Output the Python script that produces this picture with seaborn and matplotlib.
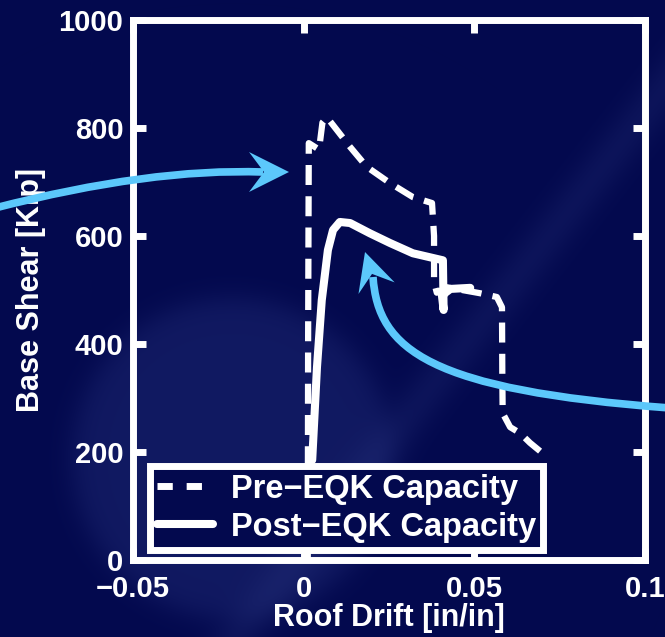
import numpy as np
import pandas as pd
import seaborn as sns
import matplotlib.pyplot as plt
from matplotlib.lines import Line2D
from matplotlib.path import Path
from matplotlib.patches import PathPatch, Polygon

# pushover curves
pre_drift = [0.0012, 0.0013, 0.0015, 0.0045, 0.0055, 0.0068, 0.0136, 0.0185, 0.0253,
             0.0320, 0.0376, 0.0382, 0.0382, 0.0390, 0.0420, 0.0517, 0.0566, 0.0581,
             0.0582, 0.0583, 0.0605, 0.0634, 0.0663, 0.0713]
pre_shear = [0, 400, 772, 760, 810, 820, 765, 728, 698,
             672, 661, 600, 515, 495, 505, 494, 487, 468,
             340, 272, 246, 235, 217, 191]

post_drift = [0.0025, 0.0039, 0.0053, 0.0071, 0.0086, 0.0106, 0.0136, 0.0194, 0.0253,
              0.0320, 0.0408, 0.0410, 0.0405, 0.0430, 0.0488]
post_shear = [185, 357, 481, 574, 611, 626, 624, 605, 587,
              568, 555, 463, 490, 502, 504]

series_names = ['Pre\u2212EQK Capacity', 'Post\u2212EQK Capacity']
x_ticks = [-0.05, 0, 0.05, 0.1]
x_tick_labels = ['\u22120.05', '0', '0.05', '0.1']
y_ticks = [0, 200, 400, 600, 800, 1000]
y_tick_labels = ['0', '200', '400', '600', '800', '1000']

navy = '#03094e'
arrow_blue = '#5cc8fb'

sns.set_theme(style='ticks')
plt.rcParams['font.family'] = ['Liberation Sans', 'DejaVu Sans']
plt.rcParams['font.weight'] = 'bold'

W, H = 665, 637
fig = plt.figure(figsize=(W / 100, H / 100), dpi=100)
fig.patch.set_facecolor(navy)

# background: dark navy with a soft lighter disc and a faint diagonal streak
yy, xx = np.mgrid[0:H, 0:W]
base = np.array([3, 9, 78]) / 255
bg = np.ones((H, W, 3)) * base
d = np.hypot(xx - 232, yy - 458)
w1 = 0.6 / (1 + np.exp((d - 160) / 8))
bg = bg * (1 - w1[..., None]) + np.array([26, 36, 110]) / 255 * w1[..., None]
dirx, diry = -130 / np.hypot(130, 167), 167 / np.hypot(130, 167)
dist = np.abs((xx - 553) * diry - (yy - 230) * dirx)
w2 = 0.16 * np.exp(-(dist / 22) ** 2)
bg = bg * (1 - w2[..., None]) + np.array([60, 75, 150]) / 255 * w2[..., None]
bg_ax = fig.add_axes([0, 0, 1, 1], zorder=-1)
bg_ax.imshow(bg, aspect='auto', extent=[0, W, H, 0])
bg_ax.axis('off')

ax = fig.add_axes([133 / W, 1 - 560 / H, 512 / W, 540 / H])
ax.set_facecolor('none')

sns.lineplot(x=post_drift, y=post_shear, sort=False, estimator=None,
             color='white', lw=5.8, ax=ax)
sns.lineplot(x=pre_drift, y=pre_shear, sort=False, estimator=None,
             color='white', lw=4.5, ax=ax)
ax.lines[-1].set_dashes([3.2, 1.8])

ax.set_xlim(-0.05, 0.1)
ax.set_ylim(0, 1000)
ax.set_xticks(x_ticks)
ax.set_xticklabels(x_tick_labels)
ax.set_yticks(y_ticks)
ax.set_yticklabels(y_tick_labels)
ax.tick_params(direction='in', length=9, width=5, color='white', labelcolor='white',
               labelsize=21, top=True, right=True, pad=7)
ax.tick_params(axis='x', pad=11)
for sp in ax.spines.values():
    sp.set_color('white')
    sp.set_linewidth(5)
    sp.set_visible(True)

ax.set_xlabel('Roof Drift [in/in]', color='white', fontsize=22, fontweight='bold', labelpad=0)
ax.set_ylabel('Base Shear [Kip]', color='white', fontsize=22, fontweight='bold', labelpad=9)

handles = [Line2D([], [], color='white', lw=5, dashes=[2.2, 2.0]),
           Line2D([], [], color='white', lw=5.8)]
leg = ax.legend(handles, series_names, loc='lower left', bbox_to_anchor=(0.033, 0.0185),
                fontsize=23.5, frameon=True, fancybox=False, framealpha=1,
                facecolor=navy, edgecolor='white', handlelength=1.7, handletextpad=0.55,
                borderpad=0.22, labelspacing=0.22, borderaxespad=0)
leg.get_frame().set_linewidth(5)
for t in leg.get_texts():
    t.set_color('white')
    t.set_fontweight('bold')


def fpt(x, y):
    return (x / W, 1 - y / H)


def callout(shaft, codes, tip, head_len=40, head_w=40, notch=15):
    # shaft ends at the notch of the head; head is a swept-back triangle
    fig.add_artist(PathPatch(Path([fpt(*p) for p in shaft], codes),
                             transform=fig.transFigure, fc='none', ec=arrow_blue,
                             lw=5.5, capstyle='butt', zorder=5))
    end = np.array(shaft[-1], float)
    u = np.array(tip, float) - end
    u /= np.hypot(*u)
    n = np.array([-u[1], u[0]])
    t = np.array(tip, float)
    base = t - head_len * u
    pts = [t, base + head_w / 2 * n, t - (head_len - notch) * u, base - head_w / 2 * n]
    fig.add_artist(Polygon([fpt(*p) for p in pts], closed=True, transform=fig.transFigure,
                           fc=arrow_blue, ec='none', zorder=5))


callout([(-5, 208), (150, 168), (263, 172)],
        [Path.MOVETO, Path.CURVE3, Path.CURVE3], tip=(289, 172))
callout([(670, 408), (430, 390), (378, 350), (373, 277)],
        [Path.MOVETO, Path.CURVE4, Path.CURVE4, Path.CURVE4], tip=(365, 252),
        head_len=38, head_w=38)

fig.savefig('out.png', dpi=100, facecolor=fig.get_facecolor())
